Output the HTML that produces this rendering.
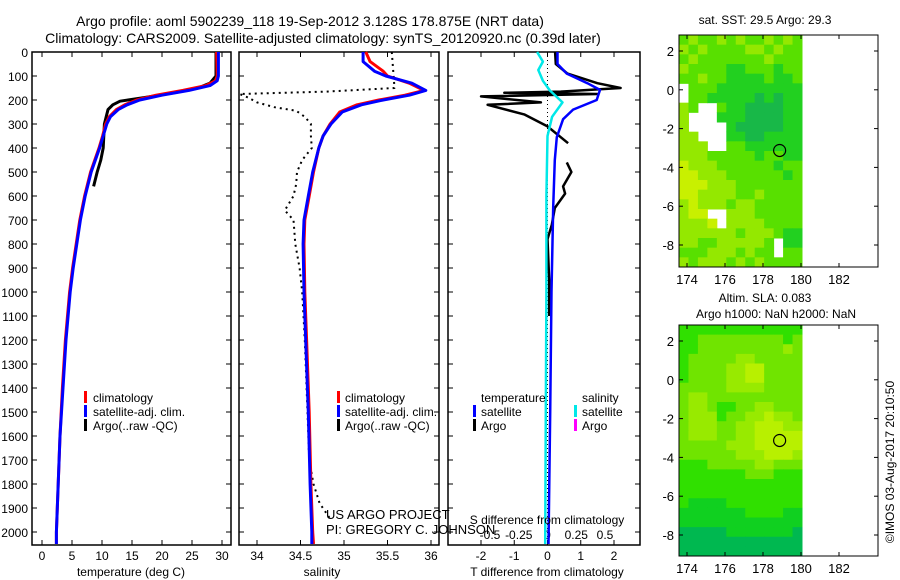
<!DOCTYPE html>
<html><head><meta charset="utf-8">
<style>
html,body{margin:0;padding:0;background:#fff;}
svg{display:block;font-family:"Liberation Sans",sans-serif;}
</style></head>
<body>
<svg id="chart" width="900" height="580" viewBox="0 0 900 580">
<text x="310" y="26" font-size="14" text-anchor="middle">Argo profile: aoml 5902239_118 19-Sep-2012 3.128S 178.875E (NRT data)</text>
<text x="323" y="43" font-size="14" text-anchor="middle">Climatology: CARS2009. Satellite-adjusted climatology: synTS_20120920.nc (0.39d later)</text>
<g id="plots"></g>
<text x="765" y="24" font-size="12" text-anchor="middle">sat. SST: 29.5 Argo: 29.3</text>
<text x="765" y="302" font-size="12" text-anchor="middle">Altim. SLA: 0.083</text>
<text x="776" y="318" font-size="12" text-anchor="middle">Argo h1000: NaN h2000: NaN</text>
<text transform="translate(894,462) rotate(-90)" font-size="12" text-anchor="middle">©IMOS 03-Aug-2017 20:10:50</text>
<g id="overlay"></g>
</svg>
<script>
// ---- data ----
const depthTicks = [0,100,200,300,400,500,600,700,800,900,1000,1100,1200,1300,1400,1500,1600,1700,1800,1900,2000];
const tempTicks = [0,5,10,15,20,25,30];
const salTicks = [34,34.5,35,35.5,36];
const salTickLabels = ["34","34.5","35","35.5","36"];
const tdiffTicks = [-2,-1,0,1,2];
const sdiffTicks = [-0.5,-0.25,0,0.25,0.5];
const sdiffTickLabels = ["-0.5","-0.25","0","0.25","0.5"];

const climDepth = [0,100,120,140,160,180,200,220,240,270,300,350,400,500,600,700,800,900,1000,1200,1400,1600,1800,2000,2050];
const climTemp  = [29.1,29.2,28.9,27.3,23.5,19,15.8,13.8,12.4,11.2,10.6,10.1,9.5,8.1,7.1,6.3,5.7,5.1,4.6,3.9,3.4,3.0,2.7,2.4,2.4];
const satTemp   = [29.4,29.4,29.2,28,24.5,20,16.3,14.2,12.7,11.4,10.8,10.2,9.6,8.2,7.2,6.4,5.8,5.2,4.7,4.0,3.5,3.0,2.7,2.4,2.4];
const argoTempDepth = [0,100,130,150,170,190,205,220,240,270,300,350,400,450,500,560];
const argoTemp      = [29.0,29.0,28.0,26,22,17,13,11.8,11,10.7,10.4,10.3,10.2,9.8,9.2,8.6];

const salDepth = [0,40,80,100,130,160,180,200,220,250,300,350,400,500,600,700,800,1000,1200,1500,1800,2000,2050];
const climSal  = [35.25,35.3,35.45,35.5,35.75,35.92,35.7,35.4,35.15,34.95,34.84,34.76,34.71,34.65,34.6,34.55,34.54,34.55,34.57,34.6,34.62,34.64,34.65];
const satSal   = [35.22,35.22,35.35,35.48,35.78,35.94,35.75,35.45,35.2,34.98,34.85,34.76,34.71,34.64,34.59,34.54,34.53,34.54,34.56,34.59,34.61,34.63,34.63];
const argoSalDepth = [0,50,100,150,165,175,190,210,230,245,270,300,350,400,450,500,550,600,660,700,800,900,1000,1200,1500,1700,1800,1880,1950];
const argoSal      = [35.55,35.56,35.57,35.58,34.8,33.8,33.9,34.0,34.2,34.45,34.55,34.62,34.62,34.63,34.52,34.46,34.45,34.42,34.32,34.42,34.44,34.49,34.52,34.55,34.58,34.6,34.65,34.72,34.85];

const tdDepth = [0,50,90,130,158,200,240,280,355,450,645,1000,1500,2050];
const tdSat   = [0.3,0.3,0.58,1.2,1.58,1.48,0.77,0.47,0.28,0.22,0.17,0.12,0.08,0.03];
const sdDepth = [0,40,75,120,160,210,270,350,600,1000,1500,2050];
const sdSat   = [-0.09,-0.04,-0.08,-0.04,0.02,0.13,0.04,0.0,-0.01,-0.01,-0.015,-0.02];
const tdArgoDepth = [0,50,90,130,150,165,170,175,185,210,220,260,310,380,null,460,500,560,590,650,720,780,880,950,1100];
const tdArgo      = [0.23,0.25,0.6,1.5,2.2,0.4,-1.3,1.5,-2.0,-0.2,-1.8,-0.7,0,0.62,null,0.58,0.72,0.47,0.53,0.22,0.13,0,0.03,0.05,0.05];

const sstRows = ["2122121221212","1212222112122","2122222221222","1222233222322","2212233332332","w222333333333","w223333343433","12ww233444433","1www333444433","1wwww34444433","11www33443333","111ww22333333","1112222232233","0111222222322","0011122222232","0001112222222","0011112212222","1011121122222","100ww11122222","1110w11112222","1111112111233","1122111112w33","2221112122w22","1211121212222"];
const sstColors = ["#c8f000","#94e800","#58e000","#22d020","#18b848"];
const slaRows = ["3333333333333","3322222222232","3322222222212","3222221122222","3222211002222","3222211002222","2222211112222","2112222222222","2112332211222","2111322110112","2111221100011","2111221100000","2222211100000","2222221110001","3332222211222","3333333222333","3333333333333","3333333333333","3444433333333","4444444333344","4444444444444","5555544444445","5555555555555","5555555555555"];
const slaColors = ["#b8f000","#98ea00","#70e400","#30e000","#10d020","#00b850"];
const lonTicks = [174,176,178,180,182];
const latTicks = [2,0,-2,-4,-6,-8];
const argoLon = 178.875, argoLat = -3.128;

// ---- helpers ----
const NS = "http://www.w3.org/2000/svg";
const root = document.getElementById('plots');
const overlay = document.getElementById('overlay');
function mk(tag, attrs, parent){
  const e = document.createElementNS(NS, tag);
  for (const k in attrs) e.setAttribute(k, attrs[k]);
  (parent||root).appendChild(e);
  return e;
}
const Y0 = 52, Y1 = 545;
const yD = d => 52 + d*0.24;
function lin(d0,d1,r0,r1){ return v => r0 + (v-d0)*(r1-r0)/(d1-d0); }
const xT = lin(0,30,42,222);
const xS = lin(34,36,257,431);
const xTD = lin(0,1,547.5,580.75);
const xSD = lin(0,1,547.5,662.5);

function pathFrom(depths, vals, xf){
  let d = "", pen = false;
  for (let i=0;i<depths.length;i++){
    if (depths[i]===null || vals[i]===null){ pen=false; continue; }
    d += (pen?"L":"M") + xf(vals[i]).toFixed(1) + "," + yD(depths[i]).toFixed(1) + " ";
    pen = true;
  }
  return d;
}

function panel(x0,x1,name){
  const g = mk('g',{});
  
  
  const r = mk('rect',{x:x0,y:Y0,width:x1-x0,height:Y1-Y0,fill:'#fff',stroke:'#000','stroke-width':1.5},g);
  
  
  depthTicks.forEach(d=>{
    mk('line',{x1:x0,x2:x0+5,y1:yD(d),y2:yD(d),stroke:'#000'},g);
    mk('line',{x1:x1-5,x2:x1,y1:yD(d),y2:yD(d),stroke:'#000'},g);
  });
  return g;
}
function xticks(g, ticks, labels, xf, name){
  ticks.forEach((t,i)=>{
    const x = xf(t);
    mk('line',{x1:x,x2:x,y1:Y0,y2:Y0+5,stroke:'#000'},g);
    mk('line',{x1:x,x2:x,y1:Y1-5,y2:Y1,stroke:'#000'},g);
    const tx = mk('text',{x:x,y:560,'font-size':12,'text-anchor':'middle'},g);
    tx.textContent = labels[i];
    
    
  });
}
function line(g, depths, vals, xf, color, w, name, dash){
  const p = mk('path',{d:pathFrom(depths,vals,xf),fill:'none',stroke:color,'stroke-width':w,'stroke-linejoin':'round'},g);
  if (dash) p.setAttribute('stroke-dasharray', dash);
  
  
}
function text(g,x,y,s,name,size,anchor){
  const t = mk('text',{x:x,y:y,'font-size':size||12,'text-anchor':anchor||'start'},g);
  t.textContent = s;
  
  
  return t;
}
function legendMark(g,x,y,color,name){
  const r = mk('rect',{x:x,y:y-11,width:3,height:12,fill:color},g);
  
  
}

// ---- panel 1: temperature ----
const g1 = panel(32,231,'temperature-panel');
depthTicks.forEach(d=>{
  text(g1,28,yD(d)+5,String(d),'depth-tick-label',12,'end');
});
xticks(g1,tempTicks,tempTicks.map(String),xT,'temperature');
line(g1,argoTempDepth,argoTemp,xT,'#000',3,'argo-temperature-line');
line(g1,climDepth,climTemp,xT,'#ff0000',3,'climatology-temperature-line');
line(g1,climDepth,satTemp,xT,'#0000ff',3,'satellite-temperature-line');
text(g1,131,576,'temperature (deg C)','temperature-axis-title',12,'middle');
legendMark(g1,84,402,'#ff0000','legend-climatology-marker');
text(g1,93,402,'climatology','legend-climatology');
legendMark(g1,84,416,'#0000ff','legend-satellite-marker');
text(g1,93,416,'satellite-adj. clim.','legend-satellite');
legendMark(g1,84,430,'#000','legend-argo-marker');
text(g1,93,430,'Argo(..raw -QC)','legend-argo');

// ---- panel 2: salinity ----
const g2 = panel(239,439,'salinity-panel');
xticks(g2,salTicks,salTickLabels,xS,'salinity');
line(g2,argoSalDepth,argoSal,xS,'#000',2,'argo-salinity-line','2,4');
line(g2,salDepth,climSal,xS,'#ff0000',3,'climatology-salinity-line');
line(g2,salDepth,satSal,xS,'#0000ff',3,'satellite-salinity-line');
text(g2,322,576,'salinity','salinity-axis-title',12,'middle');
legendMark(g2,337,402,'#ff0000','legend2-climatology-marker');
text(g2,345,402,'climatology','legend2-climatology');
legendMark(g2,337,416,'#0000ff','legend2-satellite-marker');
text(g2,345,416,'satellite-adj. clim.','legend2-satellite');
legendMark(g2,337,430,'#000','legend2-argo-marker');
text(g2,345,430,'Argo(..raw -QC)','legend2-argo');

// ---- panel 3: differences ----
const g3 = panel(448,640,'difference-panel');
xticks(g3,tdiffTicks,tdiffTicks.map(String),xTD,'tdiff');
sdiffTicks.forEach((t,i)=>{ text(g3,xSD(t),539,sdiffTickLabels[i],'sdiff-tick-label',12,'middle'); });
const zl = mk('line',{x1:xTD(0),x2:xTD(0),y1:Y0,y2:Y1,stroke:'#000','stroke-dasharray':'1,3'},g3);


line(g3,tdArgoDepth,tdArgo,xTD,'#000',2.5,'argo-tdiff-line');
line(g3,tdDepth,tdSat,xTD,'#0000ff',2.5,'satellite-tdiff-line');
line(g3,sdDepth,sdSat,xSD,'#00e8e8',2.5,'satellite-sdiff-line');
text(g3,547,524,'S difference from climatology','sdiff-axis-title',12,'middle');
text(g3,547,576,'T difference from climatology','tdiff-axis-title',12,'middle');
text(g3,481,402,'temperature','legend3-temperature-header');
text(g3,582,402,'salinity','legend3-salinity-header');
legendMark(g3,473,416,'#0000ff','legend3-tsat-marker');
text(g3,481,416,'satellite','legend3-tsat');
legendMark(g3,473,430,'#000','legend3-targo-marker');
text(g3,481,430,'Argo','legend3-targo');
legendMark(g3,574,416,'#00e8e8','legend3-ssat-marker');
text(g3,582,416,'satellite','legend3-ssat');
legendMark(g3,574,430,'#ff00ff','legend3-sargo-marker');
text(g3,582,430,'Argo','legend3-sargo');

// project labels drawn on top, overlapping panel 3
text(overlay,326,519,'US ARGO PROJECT','project-label',13);
text(overlay,326,534,'PI: GREGORY C. JOHNSON','pi-label',13);

// ---- maps ----
const lonX = lin(174,182,687,839);
function map(name, top, bottom, lat2y, latm8y, rows, colors){
  const g = mk('g',{});
  
  
  const latY = lin(2,-8,lat2y,latm8y);
  const dx0 = 679, dx1 = 802;
  const nr = rows.length, nc = rows[0].length;
  const cw = (dx1-dx0)/nc, ch = (bottom-top)/nr;
  rows.forEach((row,ri)=>{
    for (let ci=0;ci<nc;ci++){
      const c = row[ci];
      if (c==='w') continue;
      const cell = mk('rect',{x:(dx0+ci*cw).toFixed(2),y:(top+ri*ch).toFixed(2),width:(cw+0.5).toFixed(2),height:(ch+0.5).toFixed(2),fill:colors[+c]},g);
      
      
    }
  });
  const fr = mk('rect',{x:679,y:top,width:199,height:bottom-top,fill:'none',stroke:'#000','stroke-width':1},g);
  
  
  lonTicks.forEach(l=>{
    const x = lonX(l);
    mk('line',{x1:x,x2:x,y1:top,y2:top+4,stroke:'#000'},g);
    mk('line',{x1:x,x2:x,y1:bottom-4,y2:bottom,stroke:'#000'},g);
    text(g,x,bottom+17,String(l),'lon-tick-label',13,'middle');
  });
  latTicks.forEach(l=>{
    const y = latY(l);
    mk('line',{x1:679,x2:683,y1:y,y2:y,stroke:'#000'},g);
    mk('line',{x1:874,x2:878,y1:y,y2:y,stroke:'#000'},g);
    text(g,674,y+5,String(l),'lat-tick-label',13,'end');
  });
  const c = mk('circle',{cx:lonX(argoLon),cy:latY(argoLat),r:6,fill:'none',stroke:'#000','stroke-width':1.2},g);
  
  
}
map('sst-map',35,267,51,245,sstRows,sstColors);
map('sla-map',325,556,341,535,slaRows,slaColors);
</script>
</body></html>
